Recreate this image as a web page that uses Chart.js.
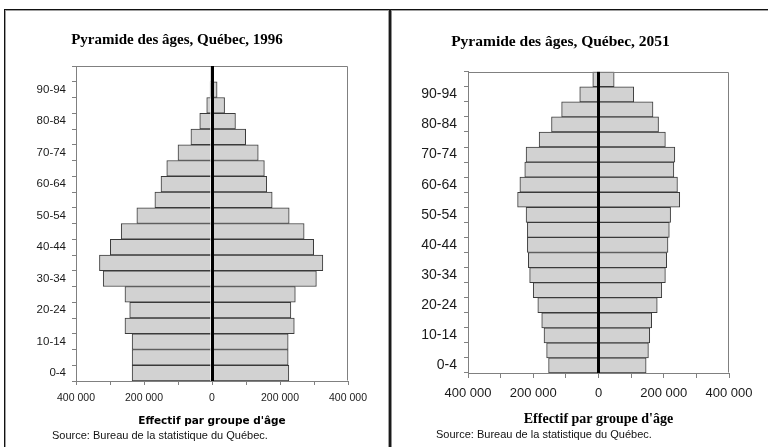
<!DOCTYPE html>
<html><head><meta charset="utf-8">
<script src="https://cdn.jsdelivr.net/npm/chart.js@4.4.1/dist/chart.umd.min.js"></script>
<style>
html,body{margin:0;padding:0;background:#fff;width:768px;height:447px;overflow:hidden;position:relative}
.ln{position:absolute}
canvas{position:absolute}
.src{position:absolute;font-family:"Liberation Sans",Arial,sans-serif;font-size:11px;line-height:13px;color:#111;white-space:nowrap;z-index:2}
</style></head><body>
<div class="ln" style="left:4px;top:9px;width:764px;height:1px;background:#111"></div>
<div class="ln" style="left:5px;top:10px;width:763px;height:1px;background:#a0a0a0"></div>
<div class="ln" style="left:4px;top:9px;width:1px;height:438px;background:#111"></div>
<div class="ln" style="left:5px;top:10px;width:1px;height:437px;background:#a0a0a0"></div>
<div class="ln" style="left:388px;top:10px;width:1px;height:437px;background:#a0a0a0"></div>
<div class="ln" style="left:389px;top:9px;width:2px;height:438px;background:#1a1a1a"></div>
<div class="ln" style="left:391px;top:10px;width:1px;height:437px;background:#909090"></div>
<canvas id="c1" width="382" height="436" style="left:6px;top:11px"></canvas>
<canvas id="c2" width="376" height="436" style="left:392px;top:11px"></canvas>
<div class="src" id="s1" style="left:52px;top:429px"></div>
<div class="src" id="s2" style="left:436px;top:428px"></div>
<script>
// Groupes d'âge (du bas vers le haut)
const groupesAge = ["0-4","5-9","10-14","15-19","20-24","25-29","30-34","35-39","40-44","45-49",
                    "50-54","55-59","60-64","65-69","70-74","75-79","80-84","85-89","90-94","95+"];
// 1996 : côté gauche (hommes) et côté droit (femmes)
const hommes1996 = [235000,235000,235000,256000,242000,256000,320000,331000,299000,267000,
                    221000,168000,150000,133000,100000,62000,36000,15500,5500,1000];
const femmes1996 = [226000,224000,224000,242000,232000,245000,307000,326000,299000,271000,
                    227000,177000,161000,154000,136000,99000,69000,37000,15000,3500];
// 2051
const hommes2051 = [153000,159000,167000,174000,186000,200000,211000,215000,218000,218000,
                    222000,248000,241000,226000,222000,182000,144000,113000,57500,17500];
const femmes2051 = [146000,153000,157000,163000,180000,194000,205000,209000,213000,217000,
                    221000,249000,242000,231000,234000,205000,184000,167000,108000,48000];
const xTicksMin = -400000, xTicksMax = 400000, xTickStep = 100000, xLabelStep = 200000;
const titre1996 = "Pyramide des âges, Québec, 1996";
const titre2051 = "Pyramide des âges, Québec, 2051";
const titreAxeX = "Effectif par groupe d'âge";
const sourceTxt = "Source: Bureau de la statistique du Québec.";

document.getElementById('s1').textContent = sourceTxt;
document.getElementById('s2').textContent = sourceTxt;

const fmt = v => String(Math.abs(v)).replace(/\B(?=(\d{3})+(?!\d))/g, ' ');

const cadre = {
  id: 'cadre',
  afterDatasetsDraw(chart) {
    const {ctx, chartArea: a} = chart;
    ctx.save();
    ctx.strokeStyle = '#808080';
    ctx.lineWidth = 1;
    const l = Math.round(a.left) + 0.5, t = Math.round(a.top) + 0.5;
    const r = Math.round(a.right) - 0.5, b = Math.round(a.bottom) - 0.5;
    ctx.beginPath();
    ctx.moveTo(l, t); ctx.lineTo(r, t); ctx.lineTo(r, b);
    ctx.stroke();
    ctx.restore();
  }
};

function pyramide(id, hommes, femmes, titre, s) {
  const ds = (vals) => ({
    data: vals, backgroundColor: '#d2d2d2', borderColor: '#3a3a3a', borderWidth: 1,
    barPercentage: 1, categoryPercentage: 1
  });
  return new Chart(document.getElementById(id), {
    type: 'bar',
    data: {
      labels: groupesAge,
      datasets: [
        Object.assign({label: 'Hommes'}, ds(hommes.map(v => -v))),
        Object.assign({label: 'Femmes'}, ds(femmes))
      ]
    },
    plugins: [cadre],
    options: {
      indexAxis: 'y', responsive: false, animation: false, devicePixelRatio: 1,
      layout: {padding: {left: 0, right: s.padR, top: 0, bottom: s.padB}},
      plugins: {
        legend: {display: false}, tooltip: {enabled: false},
        title: {display: true, text: titre, color: '#000',
          font: {family: '"Liberation Serif", "Times New Roman", serif', size: s.titleSize, weight: 'bold'},
          padding: {top: s.tPadTop, bottom: s.tPadBot}}
      },
      scales: {
        x: {
          type: 'linear', stacked: true, min: xTicksMin, max: xTicksMax,
          afterFit: sc => { sc.height = s.xH; },
          ticks: {stepSize: xTickStep, autoSkip: false, maxRotation: 0, padding: s.xTickPad, color: '#1a1a1a',
            font: {family: '"Liberation Sans", Arial, sans-serif', size: s.xFont},
            callback: v => (v % xLabelStep === 0 ? fmt(v) : '')},
          grid: {z: 1, drawOnChartArea: true, drawTicks: true, tickLength: s.xTickLen, tickColor: '#808080', tickWidth: 1,
            color: c => (c.tick && c.tick.value === 0 ? '#000' : 'rgba(0,0,0,0)'),
            lineWidth: c => (c.tick && c.tick.value === 0 ? 3 : 1)},
          border: {display: true, color: '#808080', width: 1, z: 1},
          title: {display: true, text: titreAxeX, color: '#000', font: s.xTitleFont, padding: {top: 0, bottom: 0}}
        },
        y: {
          type: 'category', stacked: true, reverse: true, offset: true,
          afterFit: sc => { sc.width = s.yW; },
          ticks: {autoSkip: false, padding: s.yTickPad, color: '#1a1a1a',
            font: {family: '"Liberation Sans", Arial, sans-serif', size: s.yFont},
            callback: (v, i) => (i % 2 === 0 ? groupesAge[i] : '')},
          grid: {offset: true, drawOnChartArea: false, drawTicks: true, tickLength: 4, tickColor: '#808080', color: '#808080'},
          border: {display: true, color: '#808080', width: 1}
        }
      }
    }
  });
}

pyramide('c1', hommes1996, femmes1996, titre1996, {
  padR: 40, padB: 19.7, titleSize: 15, tPadTop: 20, tPadBot: 17,
  xH: 46.3, xTickPad: 7, xFont: 10.5, xTickLen: 4,
  xTitleFont: {family: '"DejaVu Sans", Verdana, sans-serif', size: 10.5, weight: 'bold'},
  yW: 70, yTickPad: 6, yFont: 11.5
});
pyramide('c2', hommes2051, femmes2051, titre2051, {
  padR: 39, padB: 19.6, titleSize: 15.5, tPadTop: 21.7, tPadBot: 20.4,
  xH: 54.4, xTickPad: 8, xFont: 13, xTickLen: 5,
  xTitleFont: {family: '"Liberation Serif", "Times New Roman", serif', size: 14, weight: 'bold'},
  yW: 76, yTickPad: 7, yFont: 14
});
</script>
</body></html>
